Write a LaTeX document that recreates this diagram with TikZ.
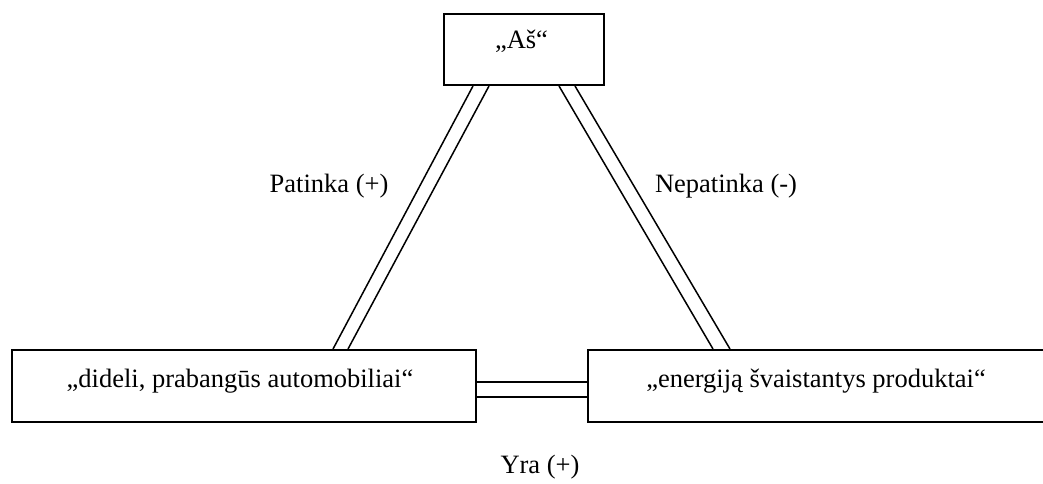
\documentclass[tikz,border=0pt]{standalone}
\usepackage{fontspec}
\setmainfont{Liberation Serif}
\usetikzlibrary{calc}
\begin{document}
\begin{tikzpicture}[x=1pt,y=-1pt,
  box/.style={draw,line width=2pt,inner sep=0pt,anchor=north west},
  link/.style={line width=1.5pt},
  boxtext/.style={font=\fontsize{26.5}{31}\selectfont,anchor=base,inner sep=0pt},
  lbl/.style={font=\fontsize{26.5}{31}\selectfont,anchor=base,inner sep=0pt}]
\useasboundingbox (0,0) rectangle (1043,483);
% concept boxes
\node[box,minimum width=160pt,minimum height=71pt] (me) at (443,13) {};
\node[box,minimum width=464pt,minimum height=72pt] (cars) at (11,349) {};
\node[box,minimum width=470pt,minimum height=72pt] (waste) at (587,349) {};
% box captions
\node[boxtext] (tme) at ($(me.north)+(-2.5,35)$) {„Aš“};
\node[boxtext] (tcars) at ($(cars.north west)+(229,38)$) {„dideli, prabangūs automobiliai“};
\node[boxtext] (twaste) at ($(waste.north west)+(229,38)$) {„energiją švaistantys produktai“};
% double relation lines
\draw[link] ($(me.south west)+(30,0)$) -- ($(cars.north west)+(322,0)$);
\draw[link] ($(me.south west)+(46,0)$) -- ($(cars.north west)+(337,0)$);
\draw[link] ($(me.south east)+(-46,0)$) -- ($(waste.north west)+(126,0)$);
\draw[link] ($(me.south east)+(-30,0)$) -- ($(waste.north west)+(143,0)$);
\draw[link] ($(cars.north east)+(0,33)$) -- ($(waste.north west)+(0,33)$);
\draw[link] ($(cars.north east)+(0,48)$) -- ($(waste.north west)+(0,48)$);
% relation labels
\node[lbl] (like) at (329,192) {Patinka (+)};
\node[lbl] (dislike) at (726,192) {Nepatinka (-)};
\node[lbl] (is) at (540,473) {Yra (+)};
\end{tikzpicture}
\end{document}
